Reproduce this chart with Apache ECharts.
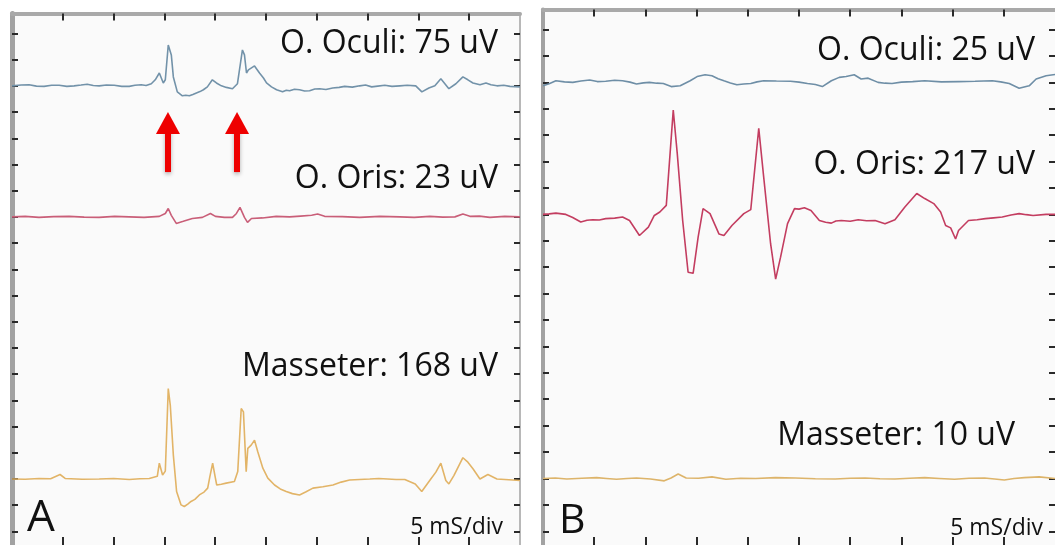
<!DOCTYPE html>
<html>
<head>
<meta charset="utf-8">
<title>Blink reflex EMG</title>
<script src="https://cdn.jsdelivr.net/npm/echarts@6/dist/echarts.min.js"></script>
<style>
  html, body { margin: 0; padding: 0; background: #fff; }
  #chart { width: 1055px; height: 545px; }
</style>
</head>
<body>
<div id="chart"></div>
<script>
// time in ms (5 ms/div), amplitude in vertical divisions from each trace's baseline
const oculiA = [
  [0, 0], [0.9, 0.03], [1.68, 0.04], [2.4, -0.01], [3.16, -0.02], [3.9, 0.02], [4.64, 0.02],
  [5.4, -0.02], [6.11, 0], [6.8, 0.03], [7.4, 0.06], [8.0, 0.01], [8.58, 0], [9.3, 0.03],
  [10.06, 0.02], [10.8, -0.02], [11.54, -0.02], [12.1, 0.02], [12.72, 0.04], [13.2, 0.01],
  [13.71, 0.08], [14.1, 0.23], [14.5, 0.49], [14.89, 0.11], [15.09, 0.23], [15.38, 1.56],
  [15.68, 1.18], [15.88, 0.34], [16.27, -0.23], [16.77, -0.38], [17.1, -0.36], [17.46, -0.38],
  [17.8, -0.33], [18.15, -0.27], [18.5, -0.22], [18.84, -0.15], [19.23, -0.04], [19.72, 0.23],
  [20.12, 0.11], [20.61, 0], [21.1, -0.06], [21.7, -0.11], [22.19, 0.08], [22.68, 1.37],
  [22.88, 1.18], [23.08, 0.49], [23.27, 0.61], [23.87, 0.76], [24.36, 0.49], [24.75, 0.3],
  [25.05, 0.11], [25.54, -0.04], [26.04, -0.15], [26.63, -0.23], [27.0, -0.17], [27.32, -0.19],
  [27.8, -0.13], [28.3, -0.15], [28.8, -0.2], [29.29, -0.19], [29.8, -0.12], [30.28, -0.11],
  [30.9, -0.14], [31.56, -0.08], [32.2, -0.06], [32.74, -0.02], [33.5, -0.05], [34.22, 0],
  [34.8, 0.03], [35.4, -0.04], [36.0, -0.01], [36.69, 0.02], [37.4, -0.02], [38.17, 0],
  [38.9, 0.02], [39.74, 0], [40.34, -0.23], [41.03, -0.08], [41.62, 0], [42.21, 0.27],
  [43.0, -0.11], [43.69, 0.08], [44.38, 0.34], [44.87, 0.23], [45.37, 0.11], [46.06, 0.04],
  [46.65, 0.11], [47.14, 0.04], [47.73, 0], [48.4, 0.02], [49.01, -0.02], [50, -0.04]
];
const orisA = [
  [0, 0], [1.3, 0.02], [2.66, -0.02], [4.1, 0.01], [5.62, 0.02], [7.1, -0.01], [8.58, -0.02],
  [10.1, 0.02], [11.54, 0], [13.0, -0.02], [14.5, 0.02], [15.09, 0.13], [15.38, 0.32],
  [15.68, 0.06], [16.17, -0.25], [16.86, -0.17], [17.75, -0.06], [18.74, -0.02], [19.53, 0.13],
  [20.02, 0.02], [20.91, -0.02], [21.7, -0.02], [22.09, 0.13], [22.44, 0.36], [22.88, -0.02],
  [23.18, -0.21], [23.57, -0.06], [24.65, -0.04], [26.0, 0.02], [27.32, 0], [28.4, 0.03],
  [29.49, 0.06], [30.08, 0.11], [30.77, 0.02], [32.5, 0.01], [34.22, -0.02], [36.2, 0.02],
  [38.17, 0], [39.6, -0.02], [41.12, 0.02], [42.4, -0.01], [43.59, 0], [44.38, 0.11],
  [45.07, 0.02], [46.0, 0.03], [47.04, -0.02], [48.5, 0.02], [50, 0]
];
const masseterA = [
  [0, 0], [1.3, -0.01], [2.66, 0.02], [3.8, 0.01], [4.73, 0.17], [5.23, 0.02], [6.9, -0.01],
  [8.58, 0], [10.0, 0.02], [11.54, -0.02], [12.6, 0.01], [13.51, 0.02], [14.3, 0.1], [14.5, 0.6],
  [14.82, 0.15], [15.09, 0.3], [15.38, 3.45], [15.58, 2.81], [15.88, 0.91], [16.2, -0.48],
  [16.64, -0.99], [16.96, -1.05], [17.3, -0.96], [17.62, -0.86], [18.0, -0.78], [18.44, -0.61],
  [18.9, -0.5], [19.26, -0.35], [19.48, 0.1], [19.75, 0.6], [20.02, 0.03], [20.15, -0.23],
  [20.6, -0.2], [21.08, -0.16], [21.89, -0.1], [22.22, 0.28], [22.56, 2.69], [22.78, 2.56],
  [23.05, 0.28], [23.21, 1.17], [23.54, 1.29], [23.87, 1.48], [24.19, 1.04], [24.69, 0.41],
  [25.18, 0.03], [25.84, -0.23], [26.4, -0.38], [26.99, -0.48], [27.6, -0.56], [28.3, -0.61],
  [28.9, -0.5], [29.62, -0.35], [30.6, -0.3], [31.59, -0.23], [32.4, -0.12], [33.23, -0.04],
  [34.2, -0.02], [35.21, 0], [36.1, 0.02], [36.98, 0], [37.8, -0.02], [38.66, -0.02],
  [39.69, -0.19], [40.33, -0.48], [41.22, 0], [41.72, 0.26], [42.21, 0.6], [42.7, -0.06],
  [43.0, -0.19], [43.49, 0.13], [44.38, 0.81], [44.87, 0.64], [45.37, 0.39], [46.06, 0],
  [46.84, 0.17], [47.73, 0], [48.9, -0.03], [50, -0.06]
];
const oculiB = [
  [0, -0.13], [0.6, -0.05], [1.26, 0.06], [2.1, 0.02], [2.91, 0], [3.7, 0.05], [4.56, 0.09],
  [5.3, 0.03], [6.12, 0.04], [7.0, 0.08], [7.77, 0.06], [8.5, 0.01], [9.13, -0.06], [9.8, -0.02],
  [10.39, 0], [11.1, -0.03], [11.75, -0.04], [12.52, -0.16], [13.4, -0.13], [14.37, 0.06],
  [15.05, 0.22], [15.83, 0.29], [16.5, 0.25], [17.1, 0.14], [17.67, 0.06], [18.3, -0.02],
  [18.93, -0.09], [19.6, -0.06], [20.29, -0.04], [20.9, 0.02], [21.55, 0.06], [22.8, 0.05],
  [24.17, 0.04], [25.0, 0.01], [25.83, -0.04], [26.6, -0.08], [27.28, -0.16], [28.16, 0.06],
  [28.93, 0.19], [29.6, 0.22], [30.39, 0.29], [31.07, 0.13], [31.75, 0.16], [32.72, 0],
  [33.4, -0.03], [34.08, -0.04], [35.0, 0.01], [36.1, 0.03], [37.28, 0.06], [38.9, 0.02],
  [40.58, 0.03], [42.2, 0.04], [43.88, 0.06], [44.7, 0.02], [45.53, -0.04], [46.5, -0.22],
  [47.48, -0.13], [48.16, 0.13], [49.13, 0.25], [50, 0.3]
];
const orisB = [
  [0, 0], [0.6, 0.02], [1.26, 0.05], [2.23, 0], [2.9, -0.12], [3.69, -0.29], [4.3, -0.22],
  [4.85, -0.2], [5.5, -0.21], [6.12, -0.16], [7.0, -0.14], [7.77, -0.1], [8.45, -0.23],
  [9.42, -0.8], [10.29, -0.48], [10.87, -0.04], [11.41, 0.09], [12.04, 0.34], [12.72, 3.95],
  [13.11, 2.31], [13.64, -0.23], [14.17, -2.19], [14.66, -2.23], [15.15, -0.86], [15.63, 0.22],
  [16.31, 0.03], [17.18, -0.74], [17.67, -0.8], [18.45, -0.42], [19.61, 0.03], [20.29, 0.18],
  [21.07, 3.26], [21.55, 1.42], [22.23, -1.12], [22.72, -2.45], [23.2, -1.62], [23.88, -0.35],
  [24.56, 0.22], [25.0, 0.2], [25.53, 0.25], [26.17, 0.15], [26.99, -0.23], [27.6, -0.3],
  [28.16, -0.33], [28.6, -0.25], [29.13, -0.23], [30.0, -0.26], [30.78, -0.2], [31.6, -0.24],
  [32.43, -0.23], [33.4, -0.35], [34.37, -0.2], [35.34, 0.28], [36.5, 0.79], [37.28, 0.6],
  [38.16, 0.41], [38.83, 0.09], [39.32, -0.42], [39.81, -0.51], [40.29, -0.93], [40.58, -0.61],
  [41.55, -0.23], [42.4, -0.2], [43.2, -0.16], [44.0, -0.13], [44.85, -0.1], [45.7, -0.02],
  [46.5, 0.03], [47.2, -0.01], [47.86, -0.04], [49.13, 0], [50, 0]
];
const masseterB = [
  [0, 0], [1.2, 0.02], [2.33, -0.02], [3.8, 0.01], [5.24, 0.03], [6.2, 0], [7.18, -0.03],
  [8.2, 0], [9.13, 0.02], [10.5, -0.02], [11.84, -0.09], [12.5, 0.02], [13.2, 0.17],
  [13.98, 0.02], [15.2, 0.01], [16.5, 0.06], [17.86, -0.03], [19.3, 0.01], [20.78, 0],
  [22.7, 0.03], [24.66, 0.02], [26.6, -0.01], [28.54, -0.02], [30.0, 0.01], [31.46, 0.02],
  [32.9, -0.01], [34.37, -0.02], [35.8, 0.01], [37.28, 0.03], [38.7, 0], [40.19, -0.03],
  [41.6, 0.01], [43.11, 0.02], [44.1, -0.02], [45.05, -0.06], [46.0, 0], [47.0, 0.03],
  [48.45, 0.06], [50, 0]
];

const labelsA = ['O. Oculi: 75 uV', 'O. Oris: 23 uV', 'Masseter: 168 uV'];
const labelsB = ['O. Oculi: 25 uV', 'O. Oris: 217 uV', 'Masseter: 10 uV'];
const panelNames = ['A', 'B'];
const sweepText = '5 mS/div';

// baselines of the three channels, in vertical divisions
const baseOculi = 17, baseOris = 12, baseMasseter = 2;
const xTicks = [5, 10, 15, 20, 25, 30, 35, 40, 45];
const yTicks = [0, 1, 2, 3, 4, 5, 6, 7, 8, 9, 10, 11, 12, 13, 14, 15, 16, 17, 18, 19];
// red arrows under the R1 / R2 responses in panel A
const arrowTimes = [15.35, 22.15];
const arrowFrom = 13.71, arrowTo = 15.58;

const shift = (trace, base) => trace.map(p => [p[0], p[1] + base]);

const tickStyle = { color: '#2a2a2a', width: 2 };
function xAx (grid, pos, len, lineStyle) {
  return {
    type: 'value', gridIndex: grid, position: pos, min: 0, max: 50,
    axisLine: lineStyle ? { show: true, onZero: false, lineStyle: lineStyle } : { show: false, onZero: false },
    axisTick: { show: true, inside: true, length: len, lineStyle: tickStyle, customValues: xTicks },
    axisLabel: { show: false }, splitLine: { show: false }
  };
}
function yAx (grid, pos, len, lineStyle) {
  return {
    type: 'value', gridIndex: grid, position: pos, min: -0.52, max: 19.76,
    axisLine: lineStyle ? { show: true, onZero: false, lineStyle: lineStyle } : { show: false, onZero: false },
    axisTick: { show: true, inside: true, length: len, lineStyle: tickStyle, customValues: yTicks },
    axisLabel: { show: false }, splitLine: { show: false }
  };
}
function trace (name, data, base, color, xi, yi) {
  return {
    name: name, type: 'line', xAxisIndex: xi, yAxisIndex: yi,
    data: shift(data, base), showSymbol: false, silent: true,
    lineStyle: { color: color, width: 1.6 }
  };
}
function label (text, right, top, size) {
  return {
    text: text, right: right, top: top, padding: 0,
    textStyle: { fontFamily: 'Open Sans', fontWeight: 'normal', fontSize: size, lineHeight: size, color: '#111' }
  };
}
function letter (text, left, top, size) {
  return {
    text: text, left: left, top: top, padding: 0,
    textStyle: { fontFamily: 'Open Sans', fontWeight: 'normal', fontSize: size, lineHeight: size, color: '#111' }
  };
}

const chart = echarts.init(document.getElementById('chart'));
chart.setOption({
  animation: false,
  backgroundColor: '#ffffff',
  title: [
    label(labelsA[0], 557, 28, 32),
    label(labelsA[1], 557, 163, 32),
    label(labelsA[2], 557, 351, 32),
    label(labelsB[0], 20, 35, 32),
    label(labelsB[1], 20, 149, 32),
    label(labelsB[2], 40, 420, 32),
    letter(panelNames[0], 27, 496, 44),
    letter(panelNames[1], 559, 501, 41),
    label(sweepText, 552, 516, 23),
    label(sweepText, 12, 517, 23)
  ],
  grid: [
    { left: 12, top: 13.5, width: 508, height: 533.5, show: true, backgroundColor: '#fafafa', borderWidth: 0 },
    { left: 543, top: 9.5, width: 517, height: 540.5, show: true, backgroundColor: '#fafafa', borderWidth: 0 }
  ],
  xAxis: [
    xAx(0, 'bottom', 8, null),
    xAx(0, 'top', 7, { color: '#a9a9a9', width: 4 }),
    xAx(1, 'bottom', 8, null),
    xAx(1, 'top', 7, { color: '#a9a9a9', width: 4 })
  ],
  yAxis: [
    yAx(0, 'left', 6, { color: '#a2a2a2', width: 5 }),
    yAx(0, 'right', 6, { color: '#b8b8b8', width: 2 }),
    yAx(1, 'left', 6, { color: '#a2a2a2', width: 4 }),
    yAx(1, 'right', 6, null)
  ],
  series: [
    Object.assign(trace('O. Oculi A', oculiA, baseOculi, '#7292a9', 0, 0), {
      markLine: {
        silent: true,
        symbol: ['none', 'triangle'],
        symbolSize: [24, 22],
        label: { show: false },
        lineStyle: { color: '#ee0000', width: 6, type: 'solid', shadowBlur: 4, shadowColor: 'rgba(0,0,0,0.3)', shadowOffsetY: 2 },
        itemStyle: { color: '#ee0000' },
        data: arrowTimes.map(t => [{ coord: [t, arrowFrom] }, { coord: [t, arrowTo] }])
      }
    }),
    trace('O. Oris A', orisA, baseOris, '#c95e78', 0, 0),
    trace('Masseter A', masseterA, baseMasseter, '#e2b467', 0, 0),
    trace('O. Oculi B', oculiB, baseOculi, '#6e8ea6', 2, 2),
    trace('O. Oris B', orisB, baseOris, '#c33d60', 2, 2),
    trace('Masseter B', masseterB, baseMasseter, '#ddb46a', 2, 2)
  ]
});
</script>
</body>
</html>
